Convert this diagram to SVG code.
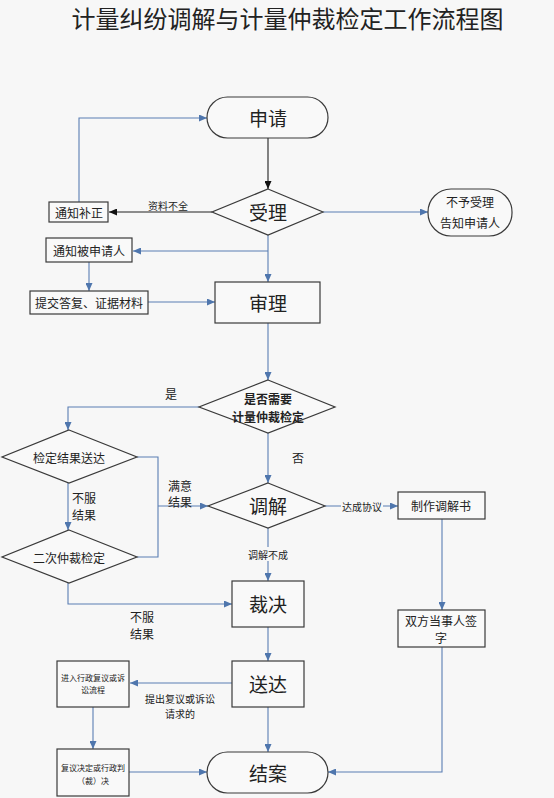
<svg xmlns="http://www.w3.org/2000/svg" width="554" height="798" viewBox="0 0 554 798">
<style>
text{font-family:"Noto Sans CJK SC","Noto Sans",sans-serif;fill:#222;text-anchor:middle;dominant-baseline:central}
.n{fill:#f9f9f9;stroke:#3a3a3a;stroke-width:1.2}
.c{fill:none;stroke:#5b7fb4;stroke-width:1.1}
.k{fill:none;stroke:#222;stroke-width:1.1}
.big{font-size:19px}
.s{font-size:12px}
.xs{font-size:10px}
.xxs{font-size:8px}
.bg{fill:#f7f7f7}
</style>
<defs>
<marker id="ab" markerUnits="userSpaceOnUse" markerWidth="8" markerHeight="7" refX="8" refY="3.5" orient="auto"><path d="M0,0L8,3.5L0,7z" fill="#4f76ad"/></marker>
<marker id="ak" markerUnits="userSpaceOnUse" markerWidth="8" markerHeight="7" refX="8" refY="3.5" orient="auto"><path d="M0,0L8,3.5L0,7z" fill="#111"/></marker>
</defs>
<rect width="554" height="798" fill="#f7f7f7"/>
<text x="287.5" y="17" style="font-size:24px">计量纠纷调解与计量仲裁检定工作流程图</text>

<g id="connectors">
<path class="k" d="M268,138V189" marker-end="url(#ak)"/>
<path class="k" d="M212,212H109" marker-end="url(#ak)"/>
<path class="c" d="M79,202V118H207" marker-end="url(#ab)"/>
<path class="c" d="M323,212H428" marker-end="url(#ab)"/>
<path class="c" d="M268,235V282" marker-end="url(#ab)"/>
<path class="c" d="M268,251H133" marker-end="url(#ab)"/>
<path class="c" d="M89,262V291" marker-end="url(#ab)"/>
<path class="c" d="M148,302H215" marker-end="url(#ab)"/>
<path class="c" d="M268,323V380" marker-end="url(#ab)"/>
<path class="c" d="M199,407H68V430" marker-end="url(#ab)"/>
<path class="c" d="M268,433V483" marker-end="url(#ab)"/>
<path class="c" d="M137,457H158V557H137"/>
<path class="c" d="M158,506H208" marker-end="url(#ab)"/>
<path class="c" d="M68,483V530" marker-end="url(#ab)"/>
<path class="c" d="M68,583V604H232" marker-end="url(#ab)"/>
<path class="c" d="M325,506H398" marker-end="url(#ab)"/>
<path class="c" d="M442,519V610" marker-end="url(#ab)"/>
<path class="c" d="M442,647V772H328" marker-end="url(#ab)"/>
<path class="c" d="M268,528V581" marker-end="url(#ab)"/>
<path class="c" d="M268,627V661" marker-end="url(#ab)"/>
<path class="c" d="M232,683H130" marker-end="url(#ab)"/>
<path class="c" d="M93,707V749" marker-end="url(#ab)"/>
<path class="c" d="M129,772H207" marker-end="url(#ab)"/>
<path class="c" d="M268,707V752" marker-end="url(#ab)"/>
<text class="xs" x="168" y="205">资料不全</text>
<text class="s" x="171" y="393">是</text>
<text class="s" x="298" y="457">否</text>
<text class="s" x="180" y="485">满意</text>
<text class="s" x="180" y="501">结果</text>
<text class="s" x="84" y="497">不服</text>
<text class="s" x="84" y="514">结果</text>
<rect class="bg" x="341" y="499" width="42" height="14"/>
<text class="xs" x="362" y="506">达成协议</text>
<rect class="bg" x="247" y="547" width="42" height="14"/>
<text class="xs" x="268" y="554">调解不成</text>
<text class="s" x="142" y="616">不服</text>
<text class="s" x="142" y="633">结果</text>
<text class="xs" x="180" y="698">提出复议或诉讼</text>
<text class="xs" x="180" y="713">请求的</text>
</g>

<g id="n-apply"><rect class="n" x="207" y="97" width="121" height="41" rx="20.5"/><text class="big" x="268" y="117">申请</text></g>
<g id="n-accept"><polygon class="n" points="268,189 323,212 268,235 212,212"/><text class="big" x="268" y="211">受理</text></g>
<g id="n-notify-fix"><rect class="n" x="49" y="202" width="59" height="20"/><text class="s" x="79" y="212">通知补正</text></g>
<g id="n-reject"><rect class="n" x="428" y="189" width="84" height="47" rx="23"/><text class="s" x="470" y="201">不予受理</text><text class="s" x="470" y="222">告知申请人</text></g>
<g id="n-notify-resp"><rect class="n" x="46" y="238" width="86" height="24"/><text class="s" x="89" y="250">通知被申请人</text></g>
<g id="n-submit"><rect class="n" x="30" y="291" width="118" height="23"/><text class="s" x="89" y="302">提交答复、证据材料</text></g>
<g id="n-review"><rect class="n" x="215" y="282" width="105" height="41"/><text class="big" x="268" y="302">审理</text></g>
<g id="n-need"><polygon class="n" points="268,380 335,407 268,433 199,407"/><text class="s" x="268" y="398" font-weight="bold">是否需要</text><text class="s" x="268" y="416" font-weight="bold">计量仲裁检定</text></g>
<g id="n-result"><polygon class="n" points="69,430 137,457 69,483 2,457"/><text class="s" x="69" y="457">检定结果送达</text></g>
<g id="n-second"><polygon class="n" points="69,530 137,557 69,583 2,557"/><text class="s" x="69" y="557">二次仲裁检定</text></g>
<g id="n-mediate"><polygon class="n" points="268,483 325,506 268,528 208,506"/><text class="big" x="268" y="505">调解</text></g>
<g id="n-make"><rect class="n" x="398" y="492" width="87" height="27"/><text class="s" x="441" y="505">制作调解书</text></g>
<g id="n-sign"><rect class="n" x="398" y="610" width="87" height="37"/><text class="s" x="441" y="620">双方当事人签</text><text class="s" x="441" y="637">字</text></g>
<g id="n-ruling"><rect class="n" x="232" y="581" width="72" height="46"/><text class="big" x="268" y="603">裁决</text></g>
<g id="n-deliver"><rect class="n" x="232" y="661" width="72" height="46"/><text class="big" x="268" y="683">送达</text></g>
<g id="n-enter"><rect class="n" x="57" y="661" width="72" height="46"/><text class="xxs" x="93" y="677">进入行政复议或诉</text><text class="xxs" x="93" y="689">讼流程</text></g>
<g id="n-decision"><rect class="n" x="57" y="749" width="72" height="47"/><text class="xxs" x="93" y="767">复议决定或行政判</text><text class="xxs" x="93" y="780">（裁）决</text></g>
<g id="n-close"><rect class="n" x="207" y="752" width="121" height="41" rx="20.5"/><text class="big" x="268" y="772">结案</text></g>
</svg>
